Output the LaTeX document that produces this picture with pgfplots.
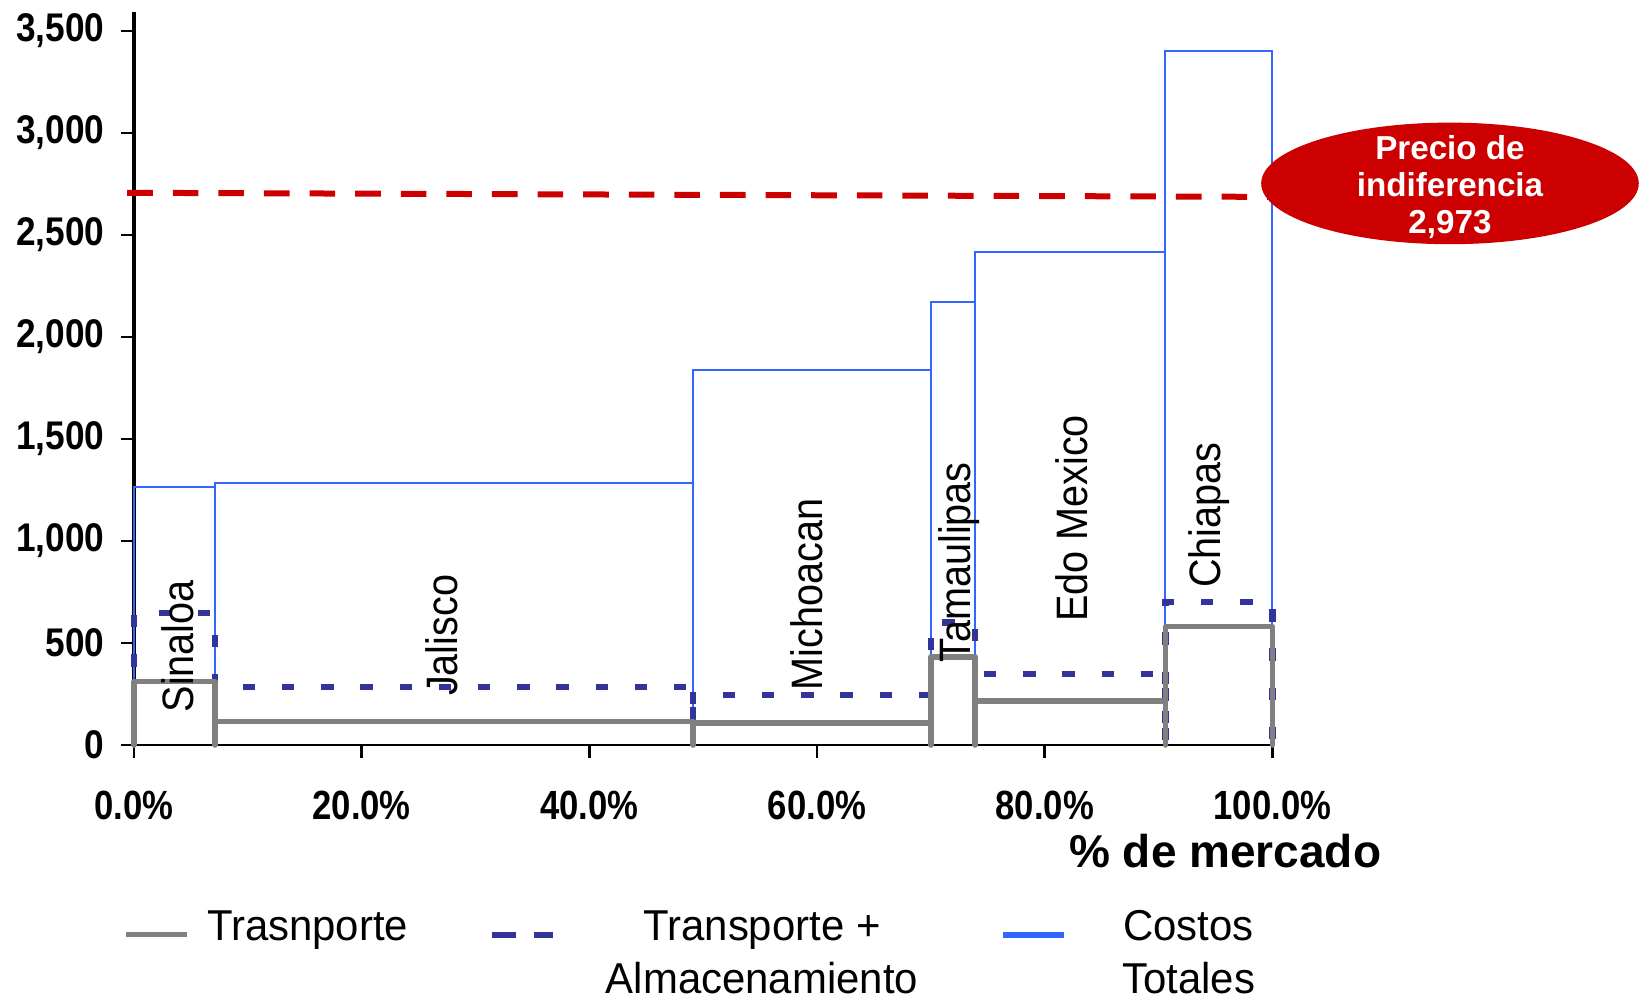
\documentclass[border=0pt]{standalone}
\usepackage{pgfplots}
\pgfplotsset{compat=1.18}
\usepackage{fontspec}
\setmainfont{Liberation Sans}
\newfontfamily\ticksfont[FakeStretch=0.85]{Liberation Sans}
\newfontfamily\yticksfont[FakeStretch=0.88]{Liberation Sans}
\newfontfamily\regionfont[FakeStretch=0.9]{Liberation Sans}
\newfontfamily\legendfont[FakeStretch=0.97]{Liberation Sans}

\definecolor{trgray}{RGB}{128,128,128}
\definecolor{tanavy}{RGB}{51,51,153}
\definecolor{ctblue}{RGB}{51,102,255}
\definecolor{prred}{RGB}{204,0,0}

\begin{document}
\begin{tikzpicture}
\useasboundingbox (-33.5pt,-63pt) rectangle (377pt,186.25pt);
\begin{axis}[
  scale only axis, width=284.6pt, height=183.3pt,
  xmin=0, xmax=100, ymin=0, ymax=3593,
  clip=false,
  axis x line=bottom, axis y line=left,
  x axis line style={-, line width=0.55pt},
  y axis line style={-, line width=0.9pt},
  xtick={0,20,40,60,80,100},
  xticklabels={0.0\%,20.0\%,40.0\%,60.0\%,80.0\%,100.0\%},
  ytick={0,500,...,3500},
  tick align=outside, major tick length=3.3pt,
  x tick style={black, line width=0.65pt},
  y tick style={black, line width=0.6pt},
  /pgf/number format/.cd, 1000 sep={,}, assume math mode=true, /pgfplots/.cd,
  yticklabel style={font=\yticksfont\bfseries\fontsize{10}{11}\selectfont, inner sep=0pt, xshift=-3.9pt},
  xticklabel style={font=\ticksfont\bfseries\fontsize{10.2}{12}\selectfont, inner sep=0pt, yshift=-7.95pt},
  xlabel={\% de mercado},
  xlabel style={at={(axis description cs:1.0963,-0.1664)}, anchor=base east, inner sep=0pt,
    font=\bfseries\fontsize{11.5}{13}\selectfont},
  legend columns=3, reverse legend,
  legend style={at={(axis description cs:-0.00913,-0.2166)}, anchor=north west,
    draw=none, fill=none, inner sep=0pt, outer sep=0pt, column sep=0pt, row sep=0pt,
    nodes={inner sep=0pt, outer sep=0pt}, cells={anchor=base west},
    font=\legendfont\fontsize{10.8}{13.25}\selectfont},
  legend image code/.code={\draw[#1] (0pt,1.5pt) -- (15.25pt,1.5pt);},
]
% Costos Totales
\addplot[ctblue, line width=0.5pt, legend image post style={line width=1.3pt}] coordinates {
  (0,0) (0,1262) (7.1,1262) (7.1,0)
  (7.1,1283) (49.1,1283) (49.1,0)
  (49.1,1840) (70.0,1840) (70.0,0)
  (70.0,2170) (73.9,2170) (73.9,0)
  (73.9,2414) (90.6,2414) (90.6,0)
  (90.6,3399) (100,3399) (100,0)
};
\addlegendentry{\makebox[61pt][c]{\begin{tabular}[t]{@{}c@{}}Costos\\Totales\end{tabular}}}
% Transporte + Almacenamiento
\addplot[tanavy, line width=1.6pt, dash pattern=on 3.1pt off 6.7pt,
  legend image post style={line width=1.5pt, dash pattern=on 6pt off 4.6pt}] coordinates {
  (0,0) (0,648) (7.1,648) (7.1,0)
  (7.1,284) (49.1,284) (49.1,0)
  (49.1,245) (70.0,245) (70.0,0)
  (70.0,600) (73.9,600) (73.9,0)
  (73.9,349) (90.6,349) (90.6,0)
  (90.6,700) (100,700) (100,0)
};
\addlegendentry{\makebox[111.15pt][l]{\makebox[103.1pt][c]{\begin{tabular}[t]{@{}c@{}}Transporte +\\Almacenamiento\end{tabular}}}}
% Trasnporte
\addplot[trgray, line width=1.4pt, line cap=round, line join=round,
  legend image post style={line width=1.25pt, line cap=butt}] coordinates {
  (0,0) (0,311) (7.1,311) (7.1,0)
  (7.1,116) (49.1,116) (49.1,0)
  (49.1,109) (70.0,109) (70.0,0)
  (70.0,432) (73.9,432) (73.9,0)
  (73.9,217) (90.6,217) (90.6,0)
  (90.6,580) (100,580) (100,0)
};
\addlegendentry{\makebox[74.8pt][l]{\hspace{4.35pt}Trasnporte}}
% Precio de indiferencia
\addplot[prred, line width=1.5pt, dash pattern=on 6.4pt off 5pt, forget plot] coordinates {
  (-0.6,2706) (100,2686)
};
\fill[prred] (axis cs:115.6,2752) ellipse [x radius=47.2pt, y radius=15.2pt];
\node[text=white, align=center, inner sep=0pt, yshift=-1pt, font=\bfseries\fontsize{8.3}{9.25}\selectfont]
  at (axis cs:115.6,2752) {Precio de\\indiferencia\\2,973};
\begin{scope}[every node/.style={rotate=90, inner sep=0pt, font=\regionfont\fontsize{11}{13}\selectfont}]
\node at (axis cs:3.87,484) {Sinaloa};
\node at (axis cs:27.0,537) {Jalisco};
\node at (axis cs:59.1,738) {Michoacan};
\node at (axis cs:72.5,895) {Tamaulipas};
\node at (axis cs:82.4,1110) {Edo Mexico};
\node at (axis cs:94.4,1127) {Chiapas};
\end{scope}
\end{axis}
\end{tikzpicture}
\end{document}
